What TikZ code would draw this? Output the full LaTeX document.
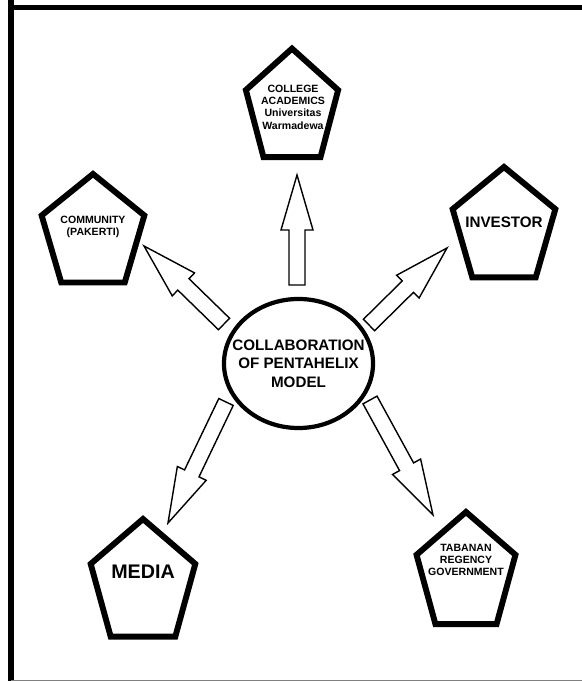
\documentclass[tikz,border=0pt]{standalone}
\usepackage{fontspec}
\setmainfont{Liberation Sans}
\usetikzlibrary{calc,shapes.geometric}

% pentagon outline round a coordinate: #1 centre, #2 x radius, #3 y radius
\newcommand{\pentagon}[3]{%
  \draw[pent, shift={(#1)}] (90:#2 and #3) -- (162:#2 and #3) -- (234:#2 and #3)
    -- (306:#2 and #3) -- (18:#2 and #3) -- cycle;}

% hollow block arrow from #1 (tail) to #2 (tip)
\newcommand{\blockarrow}[2]{%
  \coordinate (hb) at ($(#2)!1.375cm!(#1)$);
  \draw[arrowline] ($(#1)!0.2cm!90:(#2)$) -- ($(hb)!0.2cm!90:(#2)$)
    -- ($(hb)!0.4cm!90:(#2)$) -- (#2) -- ($(hb)!0.4cm!-90:(#2)$)
    -- ($(hb)!0.2cm!-90:(#2)$) -- ($(#1)!0.2cm!-90:(#2)$) -- cycle;}

\begin{document}
\begin{tikzpicture}[x=0.025cm, y=0.025cm,
        pent/.style={line width=4.2pt, line join=miter},
        hub/.style={ellipse, draw, line width=3pt, inner sep=0pt, minimum width=3.725cm, minimum height=3.225cm},
        arrowline/.style={draw, line width=1pt, line join=miter, fill=white},
        small/.style={font=\bfseries\fontsize{7.5}{8.8}\selectfont, align=center},
        big/.style={font=\bfseries\fontsize{10.8}{13.2}\selectfont, align=center}
    ]
        \useasboundingbox (0,0) rectangle (582,681);
        \fill[white] (0,0) rectangle (582,681);
        % frame
        \draw[line width=3.2pt] (8,673.5) -- (582,673.5);
        \draw[line width=4.2pt] (11,681) -- (11,0);
        \draw[gray, line width=0.8pt] (11,0.5) -- (582,0.5);

        \node[hub] (hub) at (298.5,317.5) {};
        \node[big] at (hub) {COLLABORATION\\OF PENTAHELIX\\MODEL};

        % pentagon centres
        \coordinate (acadc) at (292,572.4);
        \coordinate (commc) at (93,447);
        \coordinate (invc) at (504,453);
        \coordinate (mediac) at (143,97);
        \coordinate (govc) at (466,107);

        \pentagon{acadc}{48.5}{60}
        \pentagon{commc}{54}{60}
        \pentagon{invc}{54}{61}
        \pentagon{mediac}{55}{65}
        \pentagon{govc}{52}{62}

        \node[small] (acad) at (293,574) {COLLEGE\\ACADEMICS\\Universitas\\Warmadewa};
        \node[small] (comm) at (93,454) {COMMUNITY\\(PAKERTI)};
        \node[big] (inv) at (504,459) {INVESTOR};
        \node[font=\bfseries\fontsize{14}{16}\selectfont] (media) at (143,109) {MEDIA};
        \node[small] (gov) at (466,121) {TABANAN\\REGENCY\\GOVERNMENT};

        % arrows
        \coordinate (ta) at (297,396);  \coordinate (pa) at (297,506);
        \coordinate (tc) at (224,357);  \coordinate (pc) at (144,435);
        \coordinate (ti) at (369,356);  \coordinate (pi) at (447,433);
        \coordinate (tm) at (226,279);  \coordinate (pm) at (168,158);
        \coordinate (tg) at (370,281);  \coordinate (pg) at (433,166);

        \blockarrow{ta}{pa}
        \blockarrow{tc}{pc}
        \blockarrow{ti}{pi}
        \blockarrow{tm}{pm}
        \blockarrow{tg}{pg}
    \end{tikzpicture}
\end{document}
